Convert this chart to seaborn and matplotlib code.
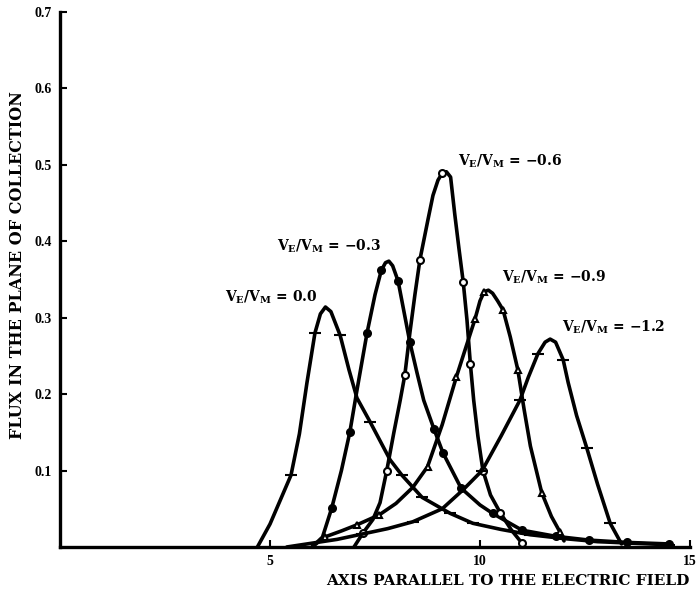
import numpy as np
import pandas as pd
import matplotlib
matplotlib.use("Agg")
import matplotlib.pyplot as plt
import seaborn as sns

# Flux profiles along the field axis for five V_E/V_M ratios
x_00 = [4.7, 5.0, 5.25, 5.5, 5.7, 5.88, 6.07, 6.2, 6.32, 6.45, 6.67, 6.88, 7.07, 7.38,
        7.86, 8.14, 8.62, 9.29, 9.83, 10.5, 11.2, 12.0, 12.8, 13.6, 14.5]
y_00 = [0.0, 0.03, 0.062, 0.094, 0.148, 0.215, 0.28, 0.305, 0.314, 0.308, 0.277, 0.232,
        0.195, 0.164, 0.114, 0.094, 0.065, 0.044, 0.031, 0.023, 0.016, 0.011, 0.007,
        0.005, 0.003]

x_03 = [6.0, 6.25, 6.47, 6.7, 6.9, 7.07, 7.31, 7.5, 7.65, 7.75, 7.83, 7.92, 8.05, 8.2,
        8.33, 8.5, 8.66, 8.9, 9.12, 9.55, 10.0, 10.3, 11.0, 11.8, 12.6, 13.5, 14.5]
y_03 = [0.0, 0.013, 0.051, 0.1, 0.15, 0.205, 0.28, 0.33, 0.362, 0.372, 0.374, 0.368,
        0.348, 0.305, 0.268, 0.228, 0.192, 0.155, 0.123, 0.077, 0.055, 0.044, 0.022,
        0.014, 0.009, 0.006, 0.004]

x_06 = [7.0, 7.21, 7.45, 7.62, 7.78, 7.95, 8.1, 8.21, 8.33, 8.45, 8.57, 8.76, 8.88, 9.0,
        9.1, 9.2, 9.3, 9.4, 9.5, 9.6, 9.69, 9.77, 9.85, 9.95, 10.07, 10.25, 10.48, 10.75,
        11.0]
y_06 = [0.0, 0.018, 0.036, 0.058, 0.1, 0.15, 0.192, 0.225, 0.28, 0.33, 0.376, 0.428,
        0.46, 0.48, 0.489, 0.491, 0.484, 0.435, 0.39, 0.347, 0.297, 0.24, 0.192, 0.145,
        0.1, 0.068, 0.045, 0.022, 0.005]

x_09 = [6.0, 6.3, 6.7, 7.07, 7.6, 8.0, 8.4, 8.75, 9.1, 9.44, 9.68, 9.88, 10.0, 10.1,
        10.2, 10.3, 10.42, 10.55, 10.72, 10.9, 11.05, 11.2, 11.47, 11.7, 11.9, 12.0]
y_09 = [0.0, 0.013, 0.021, 0.029, 0.042, 0.057, 0.078, 0.105, 0.16, 0.223, 0.264, 0.298,
        0.322, 0.334, 0.336, 0.332, 0.322, 0.31, 0.275, 0.232, 0.18, 0.132, 0.071, 0.04,
        0.02, 0.008]

x_12 = [5.4, 6.0, 6.6, 7.2, 7.8, 8.4, 9.1, 9.6, 10.05, 10.5, 10.95, 11.15, 11.38, 11.55,
        11.67, 11.8, 11.98, 12.1, 12.3, 12.54, 12.8, 13.1, 13.37]
y_12 = [0.0, 0.005, 0.01, 0.017, 0.024, 0.033, 0.05, 0.075, 0.1, 0.145, 0.192, 0.222,
        0.253, 0.268, 0.272, 0.268, 0.245, 0.215, 0.172, 0.13, 0.082, 0.031, 0.004]

curve_labels = ["V$_E$/V$_M$ = 0.0", "V$_E$/V$_M$ = \u22120.3", "V$_E$/V$_M$ = \u22120.6",
                "V$_E$/V$_M$ = \u22120.9", "V$_E$/V$_M$ = \u22121.2"]
label_x = [3.93, 5.17, 9.48, 10.52, 11.95]
label_y = [0.327, 0.393, 0.504, 0.353, 0.287]

y_ticks = [0.1, 0.2, 0.3, 0.4, 0.5, 0.6, 0.7]
y_tick_labels = ["0.1", "0.2", "0.3", "0.4", "0.5", "0.6", "0.7"]
x_ticks = [5, 10, 15]
x_tick_labels = ["5", "10", "15"]

sns.set_theme(style="ticks")
plt.rcParams["font.family"] = ["Liberation Serif", "DejaVu Serif"]
plt.rcParams["font.weight"] = "bold"
plt.rcParams["text.color"] = "black"
plt.rcParams["xtick.color"] = "black"
plt.rcParams["ytick.color"] = "black"
plt.rcParams["mathtext.fontset"] = "custom"
plt.rcParams["mathtext.rm"] = "DejaVu Serif:bold"
plt.rcParams["mathtext.it"] = "DejaVu Serif:bold"
plt.rcParams["mathtext.bf"] = "DejaVu Serif:bold"

fig = plt.figure(figsize=(6.97, 6.0), dpi=100)
ax = fig.add_axes([60 / 697, 53 / 600, 630 / 697, 535 / 600])

series = [
    (x_00, y_00, "_", "black", [3, 6, 10, 13, 15, 16, 17, 18, 20, 22, 24]),
    (x_03, y_03, "o", "black", [2, 4, 6, 8, 12, 14, 17, 18, 19, 21, 22, 23, 24, 25, 26]),
    (x_06, y_06, "o", "white", [1, 4, 7, 10, 14, 19, 21, 24, 26, 28]),
    (x_09, y_09, "^", "white", [1, 3, 4, 7, 9, 11, 13, 17, 19, 22, 24]),
    (x_12, y_12, "_", "black", [3, 5, 8, 10, 12, 16, 19, 21]),
]

for xs, ys, mk, face, idx in series:
    df = pd.DataFrame({"x": xs, "y": ys})
    sns.lineplot(data=df, x="x", y="y", sort=False, estimator=None, color="black",
                 linewidth=2.6, ax=ax, marker=mk, markevery=idx,
                 markersize=5 if mk != "_" else 8, markerfacecolor=face,
                 markeredgecolor="black", markeredgewidth=1.5)

for txt, lx, ly in zip(curve_labels, label_x, label_y):
    ax.text(lx, ly, txt, ha="left", va="center", fontsize=10, fontweight="bold",
            family="DejaVu Serif", color="black")

ax.set_xlim(0, 15)
ax.set_ylim(0, 0.7)
ax.set_xticks(x_ticks)
ax.set_xticklabels(x_tick_labels, fontsize=10, fontweight="bold", color="black")
ax.set_yticks(y_ticks)
ax.set_yticklabels(y_tick_labels, fontsize=10, fontweight="bold", color="black")
ax.tick_params(direction="in", length=5, width=1.5, pad=6, colors="black")
for side in ["top", "right"]:
    ax.spines[side].set_visible(False)
for side in ["left", "bottom"]:
    ax.spines[side].set_linewidth(2.4)
    ax.spines[side].set_color("black")

ax.set_xlabel("")
ax.set_ylabel("")
fig.text(690 / 697, 1 - 581 / 600, "AXIS PARALLEL TO THE ELECTRIC FIELD", ha="right",
         va="center", fontsize=11, fontweight="bold", family="DejaVu Serif", color="black")
fig.text(18 / 697, 1 - 265 / 600, "FLUX IN THE PLANE OF COLLECTION", rotation=90,
         ha="center", va="center", fontsize=11.5, fontweight="bold", family="DejaVu Serif",
         color="black")

fig.savefig("out.png", dpi=100, facecolor="white")
